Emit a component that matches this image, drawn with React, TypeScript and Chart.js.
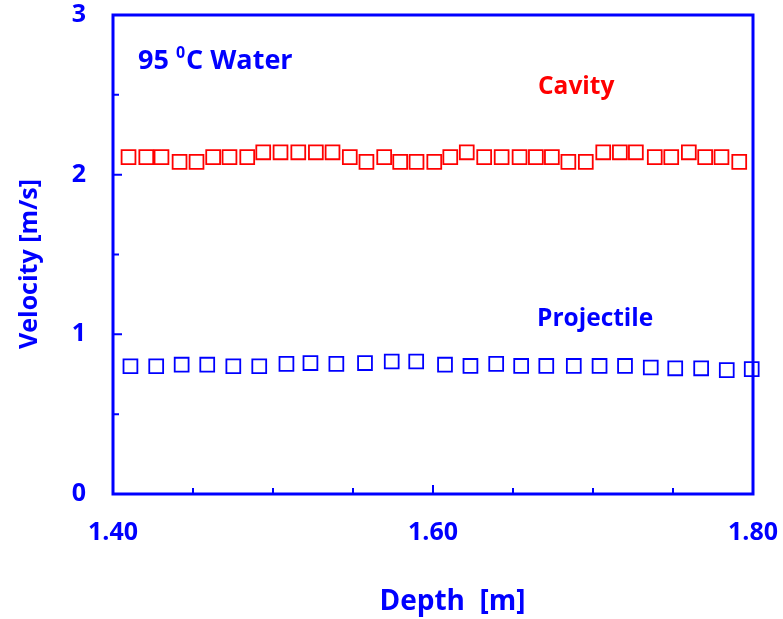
import React, { useEffect, useRef } from 'react';
import { Chart, registerables } from 'chart.js';

Chart.register(...registerables);

// ---- data ----
const cavityDepth = [
  1.4097, 1.4208, 1.4303, 1.4416, 1.4522, 1.4626, 1.4728, 1.4839, 1.4939, 1.5047,
  1.5158, 1.5268, 1.5372, 1.548, 1.5584, 1.5695, 1.5795, 1.5897, 1.6008, 1.6108,
  1.6211, 1.632, 1.6429, 1.6541, 1.6643, 1.6743, 1.6846, 1.6955, 1.7064, 1.7168,
  1.7268, 1.7386, 1.7489, 1.7599, 1.7701, 1.7803, 1.7914,
];
const cavityVelocity = [
  2.11, 2.11, 2.11, 2.08, 2.08, 2.11, 2.11, 2.11, 2.14, 2.14,
  2.14, 2.14, 2.14, 2.11, 2.08, 2.11, 2.08, 2.08, 2.08, 2.11,
  2.14, 2.11, 2.11, 2.11, 2.11, 2.11, 2.08, 2.08, 2.14, 2.14,
  2.14, 2.11, 2.11, 2.14, 2.11, 2.11, 2.08,
];
const projectileDepth = [
  1.4109, 1.427, 1.4429, 1.4589, 1.4752, 1.4914, 1.5084, 1.5234, 1.5396, 1.5575,
  1.5742, 1.5895, 1.6075, 1.6234, 1.6395, 1.6551, 1.6708, 1.688, 1.7041, 1.72,
  1.7361, 1.7514, 1.7676, 1.7836, 1.7992,
];
const projectileVelocity = [
  0.8, 0.8, 0.81, 0.81, 0.8, 0.8, 0.815, 0.82, 0.815, 0.82,
  0.83, 0.83, 0.81, 0.802, 0.815, 0.802, 0.802, 0.802, 0.802, 0.802,
  0.792, 0.787, 0.787, 0.776, 0.782,
];

const xTickValues = [1.4, 1.6, 1.8];
const xTickLabels = ['1.40', '1.60', '1.80'];
const xMinorTicks = [1.45, 1.5, 1.55, 1.65, 1.7, 1.75];
const yTickValues = [0, 1, 2, 3];
const yTickLabels = ['0', '1', '2', '3'];
const yMinorTicks = [0.5, 1.5, 2.5];

const xTitle = 'Depth  [m]';
const yTitle = 'Velocity [m/s]';
const titleMain = '95 ';
const titleSup = '0';
const titleRest = 'C Water';
const cavityLabel = 'Cavity';
const projectileLabel = 'Projectile';

// ---- styles ----
const BLUE = '#0000ff';
const RED = '#ff0000';
const FAMILY = '"Open Sans", "Noto Sans", sans-serif';

const framePlugin = {
  id: 'frameAndText',
  afterDatasetsDraw(chart: any) {
    const { ctx, chartArea: a } = chart;
    const xs = chart.scales.x;
    const ys = chart.scales.y;
    ctx.save();
    // frame
    ctx.strokeStyle = BLUE;
    ctx.lineWidth = 3;
    ctx.strokeRect(a.left, a.top, a.right - a.left, a.bottom - a.top);
    // inward ticks
    ctx.lineWidth = 2;
    ctx.beginPath();
    xTickValues.forEach((v) => {
      const p = xs.getPixelForValue(v);
      ctx.moveTo(p, a.bottom);
      ctx.lineTo(p, a.bottom - 9);
    });
    xMinorTicks.forEach((v) => {
      const p = xs.getPixelForValue(v);
      ctx.moveTo(p, a.bottom);
      ctx.lineTo(p, a.bottom - 6);
    });
    yTickValues.forEach((v) => {
      const p = ys.getPixelForValue(v);
      ctx.moveTo(a.left, p);
      ctx.lineTo(a.left + 9, p);
    });
    yMinorTicks.forEach((v) => {
      const p = ys.getPixelForValue(v);
      ctx.moveTo(a.left, p);
      ctx.lineTo(a.left + 6, p);
    });
    ctx.stroke();

    // texts
    ctx.textBaseline = 'alphabetic';
    ctx.textAlign = 'left';
    ctx.fillStyle = BLUE;
    // title "95 0C Water"
    let tx = a.left + 25;
    const tb = a.top + 54;
    ctx.font = `bold 27px ${FAMILY}`;
    ctx.fillText(titleMain, tx, tb);
    tx += ctx.measureText(titleMain).width;
    ctx.font = `bold 16px ${FAMILY}`;
    ctx.fillText(titleSup, tx, tb - 11);
    tx += ctx.measureText(titleSup).width + 1;
    ctx.font = `bold 27px ${FAMILY}`;
    ctx.fillText(titleRest, tx, tb);

    // series labels
    ctx.font = `bold 24.5px ${FAMILY}`;
    ctx.fillStyle = RED;
    ctx.fillText(cavityLabel, a.left + 425, a.top + 79);
    ctx.fillStyle = BLUE;
    ctx.fillText(projectileLabel, a.left + 424, a.top + 311);

    // axis titles
    ctx.font = `bold 28px ${FAMILY}`;
    ctx.textAlign = 'center';
    ctx.fillText(xTitle, (a.left + a.right) / 2 + 19.5, a.bottom + 116);
    ctx.save();
    ctx.translate(37, (a.top + a.bottom) / 2 + 9.5);
    ctx.rotate(-Math.PI / 2);
    ctx.font = `bold 25px ${FAMILY}`;
    ctx.fillText(yTitle, 0, 0);
    ctx.restore();

    ctx.restore();
  },
};

const zeroPadding = (s: any) => {
  s.paddingLeft = 0;
  s.paddingRight = 0;
  s.paddingTop = 0;
  s.paddingBottom = 0;
};

export default function App() {
  const canvasRef = useRef<HTMLCanvasElement | null>(null);

  useEffect(() => {
    document.body.style.margin = '0';
    const canvas = canvasRef.current;
    if (!canvas) return;
    const chart = new Chart(canvas, {
      type: 'scatter',
      data: {
        datasets: [
          {
            label: cavityLabel,
            data: cavityDepth.map((d, i) => ({ x: d, y: cavityVelocity[i] })),
            showLine: false,
            pointStyle: 'rect',
            pointRadius: 9.8,
            pointHoverRadius: 9.8,
            pointBorderWidth: 1.8,
            pointBorderColor: RED,
            pointBackgroundColor: 'rgba(0,0,0,0)',
            borderColor: RED,
            backgroundColor: 'rgba(0,0,0,0)',
            clip: false,
          } as any,
          {
            label: projectileLabel,
            data: projectileDepth.map((d, i) => ({ x: d, y: projectileVelocity[i] })),
            showLine: false,
            pointStyle: 'rect',
            pointRadius: 9.8,
            pointHoverRadius: 9.8,
            pointBorderWidth: 1.8,
            pointBorderColor: BLUE,
            pointBackgroundColor: 'rgba(0,0,0,0)',
            borderColor: BLUE,
            backgroundColor: 'rgba(0,0,0,0)',
            clip: false,
          } as any,
        ],
      },
      options: {
        responsive: false,
        animation: false,
        events: [],
        layout: { padding: { top: 15, right: 30, left: 0, bottom: 0 } },
        plugins: {
          legend: { display: false },
          tooltip: { enabled: false },
          title: { display: false },
        },
        scales: {
          x: {
            type: 'linear',
            min: 1.4,
            max: 1.8,
            grid: { display: false, drawTicks: false, tickLength: 0 },
            border: { display: false },
            afterBuildTicks: (s: any) => {
              s.ticks = xTickValues.map((v) => ({ value: v }));
            },
            afterFit: (s: any) => {
              s.height = 125;
              zeroPadding(s);
            },
            ticks: {
              autoSkip: false,
              maxRotation: 0,
              padding: 24,
              color: BLUE,
              font: { family: FAMILY, size: 25, weight: 'bold' },
              callback: (v: any) => xTickLabels[xTickValues.indexOf(Number(v))] ?? '',
            },
          },
          y: {
            type: 'linear',
            min: 0,
            max: 3,
            grid: { display: false, drawTicks: false, tickLength: 0 },
            border: { display: false },
            afterBuildTicks: (s: any) => {
              s.ticks = yTickValues.map((v) => ({ value: v }));
            },
            afterFit: (s: any) => {
              s.width = 113;
              zeroPadding(s);
            },
            ticks: {
              autoSkip: false,
              padding: 27,
              color: BLUE,
              font: { family: FAMILY, size: 25, weight: 'bold' },
              callback: (v: any) => yTickLabels[yTickValues.indexOf(Number(v))] ?? '',
            },
          },
        },
      } as any,
      plugins: [framePlugin],
    });
    return () => chart.destroy();
  }, []);

  return (
    <div style={{ width: 783, height: 619, background: '#ffffff' }}>
      <canvas ref={canvasRef} width={783} height={619} style={{ display: 'block' }} />
    </div>
  );
}
